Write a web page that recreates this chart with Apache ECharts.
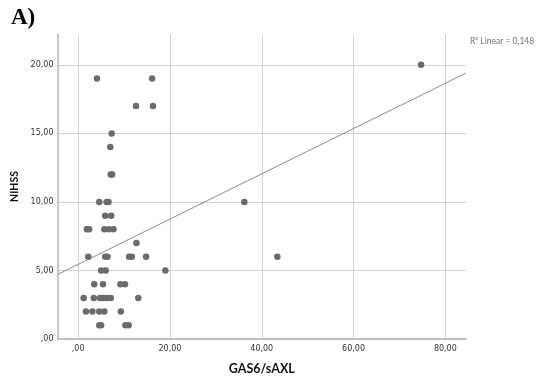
<!DOCTYPE html>
<html>
<head>
<meta charset="utf-8">
<script src="https://cdn.jsdelivr.net/npm/echarts@6/dist/echarts.min.js"></script>
<style>
html,body{margin:0;padding:0;background:#fff;}
#chart{width:538px;height:378px;}
</style>
</head>
<body>
<div id="chart"></div>
<script>
// GAS6/sAXL values (x) and NIHSS scores (y)
const gasValues = [
  74.7,
  4.1, 16.1,
  12.6, 16.3,
  7.3,
  7.0,
  7.1, 7.4,
  4.6, 6.2, 6.6, 36.2,
  5.9, 7.2,
  1.9, 2.4, 5.7, 6.7, 7.7,
  12.7,
  2.2, 5.9, 6.4, 11.1, 11.7, 14.8, 43.4,
  5.0, 6.0, 19.0,
  3.5, 5.4, 9.2, 10.2,
  1.2, 3.4, 4.8, 5.5, 6.2, 7.1, 13.1,
  1.7, 3.1, 4.6, 5.7, 9.3,
  4.6, 5.0, 10.3, 11.0
];
const nihssValues = [
  20,
  19, 19,
  17, 17,
  15,
  14,
  12, 12,
  10, 10, 10, 10,
  9, 9,
  8, 8, 8, 8, 8,
  7,
  6, 6, 6, 6, 6, 6, 6,
  5, 5, 5,
  4, 4, 4, 4,
  3, 3, 3, 3, 3, 3, 3,
  2, 2, 2, 2, 2,
  1, 1, 1, 1
];
// Linear fit line end points
const fitX = [-4.5, 84.5];
const fitY = [4.7, 19.4];
const xTicks = [0, 20, 40, 60, 80];
const yTicks = [0, 5, 10, 15, 20];
const r2Label = 'R² Linear = 0,148';

function fmt(v) {
  let s = v.toFixed(2).replace('.', ',');
  if (s.startsWith('0,')) s = s.substring(1);
  return s;
}

const points = gasValues.map((x, i) => [x, nihssValues[i]]);
const fitLine = fitX.map((x, i) => [x, fitY[i]]);

const chart = echarts.init(document.getElementById('chart'), null, {renderer: 'canvas'});
chart.setOption({
  animation: false,
  backgroundColor: '#fff',
  title: {
    text: 'A)',
    left: 6,
    top: 2,
    textStyle: {fontFamily: 'Liberation Serif', fontWeight: 'bold', fontSize: 23, color: '#000'}
  },
  graphic: [{
    type: 'text',
    left: 470,
    top: 37,
    style: {text: r2Label, fontFamily: 'Lato', fontSize: 8.5, fill: '#777'}
  }],
  grid: {left: 57.5, right: 72, top: 34, bottom: 39, outerBoundsMode: 'none'},
  xAxis: {
    type: 'value',
    min: -4.5,
    max: 84.5,
    name: 'GAS6/sAXL',
    nameLocation: 'middle',
    nameGap: 23,
    nameTextStyle: {fontFamily: 'Lato', fontWeight: 'bold', fontSize: 12.5, color: '#111'},
    axisLine: {show: true, onZero: false, lineStyle: {color: '#b4b4b4', width: 1.5}},
    axisTick: {show: false, customValues: xTicks},
    axisLabel: {customValues: xTicks, formatter: fmt, fontFamily: 'DejaVu Sans', fontSize: 8, color: '#333', margin: 6},
    splitLine: {show: true, lineStyle: {color: '#d2d2d2', width: 1}}
  },
  yAxis: {
    type: 'value',
    min: 0,
    max: 22.25,
    name: 'NIHSS',
    nameLocation: 'middle',
    nameGap: 36,
    nameTextStyle: {fontFamily: 'Lato', fontWeight: 'bold', fontSize: 10.5, color: '#111'},
    axisLine: {show: true, onZero: false, lineStyle: {color: '#b4b4b4', width: 1.5}},
    axisTick: {show: false, customValues: yTicks},
    axisLabel: {customValues: yTicks, formatter: fmt, fontFamily: 'DejaVu Sans', fontSize: 8, color: '#333', margin: 4},
    splitLine: {show: true, lineStyle: {color: '#d2d2d2', width: 1}}
  },
  series: [
    {
      type: 'scatter',
      data: points,
      symbolSize: 6.5,
      itemStyle: {color: '#6b6b6b', opacity: 1},
      z: 3
    },
    {
      type: 'line',
      data: fitLine,
      symbol: 'none',
      lineStyle: {color: '#8c8c8c', width: 1},
      z: 2
    }
  ]
});
</script>
</body>
</html>
